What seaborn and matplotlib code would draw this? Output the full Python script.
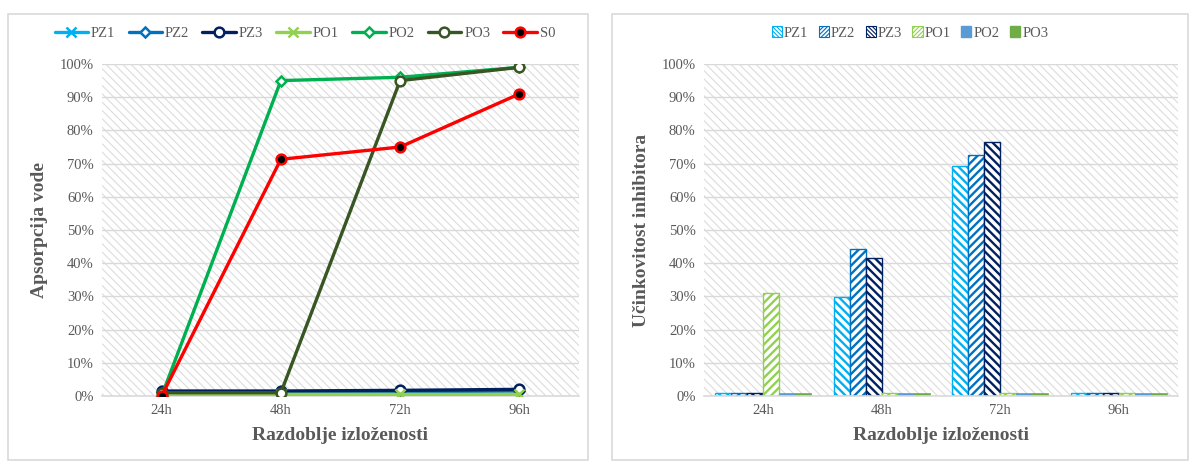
import matplotlib
matplotlib.use('Agg')
import matplotlib as mpl
import matplotlib.pyplot as plt
import seaborn as sns
import pandas as pd
from matplotlib.patches import Rectangle, Patch
from matplotlib.ticker import PercentFormatter, MultipleLocator

# ---------------- data ----------------
times = ['24h', '48h', '72h', '96h']

# left chart: water absorption (%)
abs_pz1 = [0.0, 0.0, 0.0, 0.0]
abs_pz2 = [1.2, 1.2, 1.3, 1.5]
abs_pz3 = [1.5, 1.5, 1.7, 2.0]
abs_po1 = [0.0, 0.5, 0.5, 0.5]
abs_po2 = [0.0, 95.0, 96.0, 99.0]
abs_po3 = [1.0, 1.0, 95.0, 99.0]
abs_s0 = [0.0, 71.3, 75.0, 91.0]
line_names = ['PZ1', 'PZ2', 'PZ3', 'PO1', 'PO2', 'PO3', 'S0']

# right chart: inhibitor efficiency (%)
eff_pz1 = [1.0, 29.8, 69.3, 1.0]
eff_pz2 = [1.0, 44.3, 72.7, 1.0]
eff_pz3 = [1.0, 41.6, 76.5, 1.0]
eff_po1 = [31.0, 1.0, 1.0, 1.0]
eff_po2 = [1.0, 1.0, 1.0, 1.0]
eff_po3 = [1.0, 1.0, 1.0, 1.0]
bar_names = ['PZ1', 'PZ2', 'PZ3', 'PO1', 'PO2', 'PO3']

# ---------------- style ----------------
sns.set_theme(style='white')
plt.rcParams['font.family'] = ['Liberation Serif', 'DejaVu Serif']
plt.rcParams['hatch.linewidth'] = 0.8

GRAY_TXT = '#595959'
GRID = '#D9D9D9'

line_colors = ['#00B0F0', '#0070C0', '#002060', '#92D050', '#00B050', '#375623', '#FF0000']
line_markers = ['x', 'D', 'o', 'x', 'D', 'o', 'o']
marker_sizes = [7, 5, 7, 7, 5, 7, 7]
marker_faces = ['#00B0F0', 'white', 'white', '#92D050', 'white', 'white', 'black']

bar_colors = ['#00B0F0', '#0070C0', '#002060', '#92D050', '#5B9BD5', '#70AD47']
bar_hatches = ['\\\\\\\\', '////', '\\\\\\\\', '////', None, None]

fig = plt.figure(figsize=(11.94, 4.62), dpi=100)

# panel frames
for x0, w in [(8 / 1194, 580 / 1194), (612 / 1194, 576 / 1194)]:
    fig.patches.append(Rectangle((x0, 2 / 462), w, 446 / 462, transform=fig.transFigure,
                                 facecolor='none', edgecolor=GRID, linewidth=1.2))

ax1 = fig.add_axes([102 / 1194, 1 - 396 / 462, (579 - 102) / 1194, (396 - 64) / 462])
ax2 = fig.add_axes([704 / 1194, 1 - 396 / 462, (1178 - 704) / 1194, (396 - 64) / 462])


def style_axes(ax, ylabel):
    bg = Rectangle((0, 0), 1, 1, transform=ax.transAxes, facecolor='white',
                   edgecolor='#DCDCDC', linewidth=0, hatch='\\\\\\\\', zorder=0)
    ax.add_patch(bg)
    try:
        bg.set_hatch_linewidth(0.8)
    except Exception:
        pass
    ax.set_axisbelow(True)
    ax.yaxis.grid(True, color=GRID, linewidth=1)
    ax.xaxis.grid(False)
    ax.set_ylim(0, 100)
    ax.set_xlim(-0.5, 3.5)
    ax.yaxis.set_major_locator(MultipleLocator(10))
    ax.yaxis.set_major_formatter(PercentFormatter(decimals=0))
    for s in ['top', 'right', 'left']:
        ax.spines[s].set_visible(False)
    ax.spines['bottom'].set_color(GRID)
    ax.spines['bottom'].set_linewidth(1.2)
    ax.tick_params(axis='both', length=0, labelsize=10.5, labelcolor=GRAY_TXT, pad=6)
    ax.set_xlabel('Razdoblje izloženosti', fontsize=14, fontweight='bold', color=GRAY_TXT, labelpad=7)
    ax.set_ylabel(ylabel, fontsize=14, fontweight='bold', color=GRAY_TXT, labelpad=8)


# ---------------- left: lines ----------------
abs_series = [abs_pz1, abs_pz2, abs_pz3, abs_po1, abs_po2, abs_po3, abs_s0]
for name, vals, c, m, ms, mf in zip(line_names, abs_series, line_colors, line_markers,
                                    marker_sizes, marker_faces):
    sns.lineplot(x=times, y=vals, ax=ax1, color=c, marker=m, markersize=ms,
                 markerfacecolor=mf, markeredgecolor=c, markeredgewidth=1.8,
                 linewidth=2.4, label=name, zorder=3)
style_axes(ax1, 'Apsorpcija vode')
h, l = ax1.get_legend_handles_labels()
if ax1.get_legend() is not None:
    ax1.get_legend().remove()
fig.legend(h, l, loc='center', bbox_to_anchor=(305 / 1194, 1 - 33 / 462), ncol=7,
           frameon=False, fontsize=10.5, handlelength=2.3, columnspacing=0.9,
           handletextpad=0.2, labelcolor=GRAY_TXT)

# ---------------- right: bars ----------------
eff_series = [eff_pz1, eff_pz2, eff_pz3, eff_po1, eff_po2, eff_po3]
df = pd.DataFrame({
    'time': [t for _ in bar_names for t in times],
    'value': [v for vals in eff_series for v in vals],
    'series': [n for n in bar_names for _ in times],
})
sns.barplot(data=df, x='time', y='value', hue='series', order=times, hue_order=bar_names,
            palette=bar_colors, saturation=1, width=0.81, gap=0, legend=False, ax=ax2,
            zorder=2)
style_axes(ax2, 'Učinkovitost inhibitora')

for cont, c, hatch in zip(ax2.containers, bar_colors, bar_hatches):
    for bar in cont:
        if hatch:
            bar.set_facecolor('white')
            bar.set_edgecolor(c)
            bar.set_hatch(hatch)
            bar.set_linewidth(1.0)
            try:
                bar.set_hatch_linewidth(1.7)
            except Exception:
                pass
        else:
            bar.set_facecolor(c)
            bar.set_edgecolor(c)
            bar.set_linewidth(0.5)

leg_handles = []
for c, hatch in zip(bar_colors, bar_hatches):
    if hatch:
        p = Patch(facecolor='white', edgecolor=c, hatch=hatch * 2, linewidth=0.8)
        try:
            p.set_hatch_linewidth(1.5)
        except Exception:
            pass
    else:
        p = Patch(facecolor=c, edgecolor=c)
    leg_handles.append(p)
fig.legend(leg_handles, bar_names, loc='center', bbox_to_anchor=(910 / 1194, 1 - 33 / 462),
           ncol=6, frameon=False, fontsize=10.5, handlelength=0.7, handleheight=0.7,
           columnspacing=0.7, handletextpad=0.15, labelcolor=GRAY_TXT)

fig.savefig('out.png', dpi=100)
